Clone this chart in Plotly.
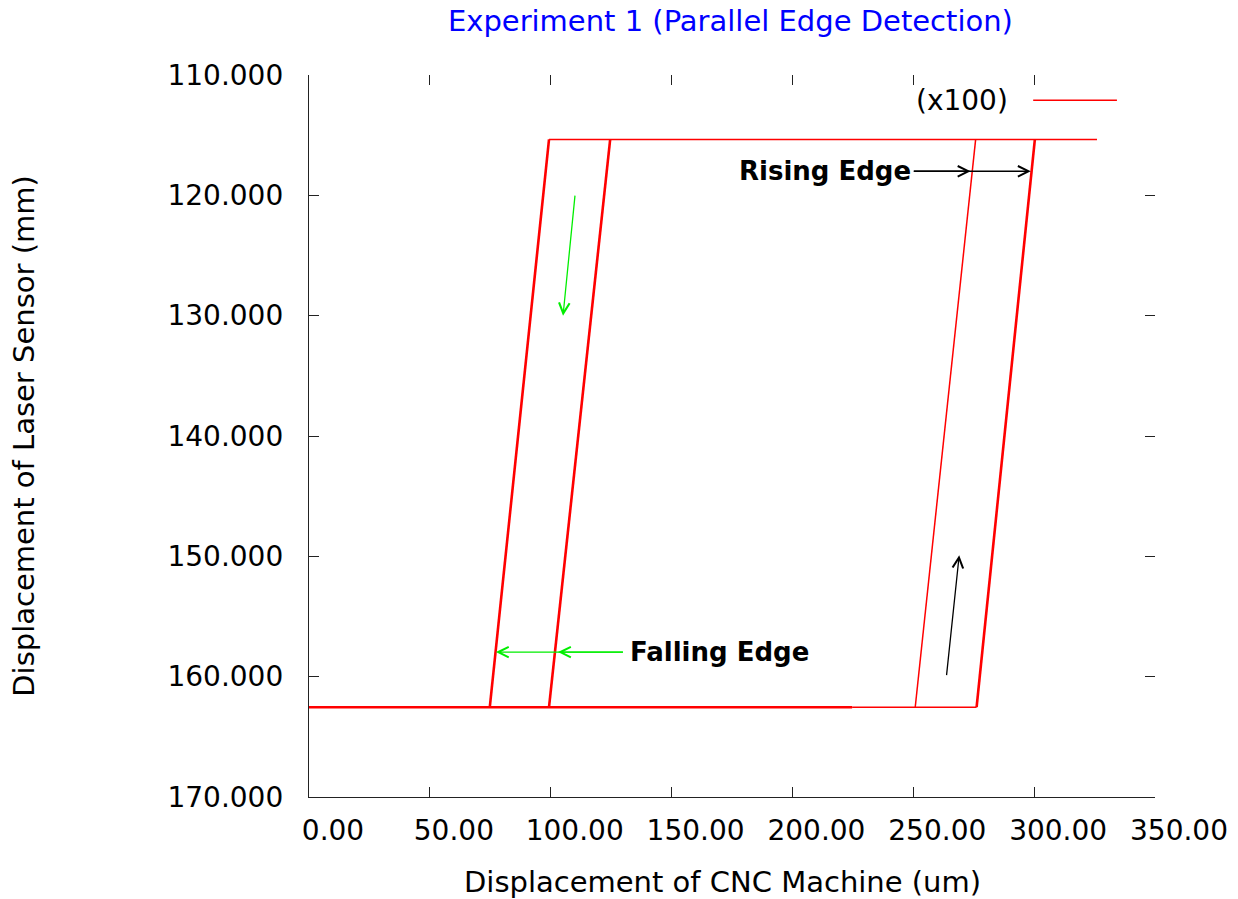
import plotly.graph_objects as go

# ---- data ----
title_text = "Experiment 1 (Parallel Edge Detection)"
x_title = "Displacement of CNC Machine (um)"
y_title = "Displacement of Laser Sensor (mm)"
series_name = "(x100)"

x_tick_vals = [0, 50, 100, 150, 200, 250, 300, 350]
y_tick_vals = [110, 120, 130, 140, 150, 160, 170]

# densely sampled parts of the trace (drawn heavier)
dense_x = [0.0, 224.7, None, 74.8, 99.3, None, 99.3, 124.6, None, 276.2, 300.3]
dense_y = [162.54, 162.54, None, 162.54, 115.35, None, 162.54, 115.35, None, 162.54, 115.35]
# sparse parts (jumps between samples, drawn lighter)
sparse_x = [224.7, 276.2, None, 99.3, 326.0, None, 250.8, 275.8]
sparse_y = [162.54, 162.54, None, 115.35, 115.35, None, 162.54, 115.35]

# annotation arrows: (tail_x, tail_y, head_x, head_y, colour)
arrow_tail_x = [249.6, 249.6, 130.5, 130.5, 110.1, 263.7]
arrow_tail_y = [118.0, 118.0, 157.96, 157.96, 119.9, 160.0]
arrow_head_x = [273.7, 298.6, 103.0, 77.3, 105.1, 269.0]
arrow_head_y = [118.0, 118.0, 157.96, 157.96, 130.0, 149.9]
arrow_colors = ["#000000", "#000000", "#00ee00", "#00ee00", "#00ee00", "#000000"]

label_texts = ["Rising Edge", "Falling Edge"]
label_x = [213.4, 169.7]
label_y = [118.0, 157.96]

FONT = "DejaVu Sans"
RED = "#ff0000"

fig = go.Figure()
fig.add_trace(go.Scatter(x=dense_x, y=dense_y, mode="lines", connectgaps=False,
                         line=dict(color=RED, width=2.6), showlegend=False,
                         name=series_name))
fig.add_trace(go.Scatter(x=sparse_x, y=sparse_y, mode="lines", connectgaps=False,
                         line=dict(color=RED, width=1.5), showlegend=False,
                         name=series_name))
# empty trace to carry the mirrored tick axes
fig.add_trace(go.Scatter(x=[], y=[], xaxis="x2", yaxis="y2", showlegend=False))

annotations = []
for tx, ty, hx, hy, c in zip(arrow_tail_x, arrow_tail_y, arrow_head_x, arrow_head_y, arrow_colors):
    annotations.append(dict(x=hx, y=hy, ax=tx, ay=ty, xref="x", yref="y",
                            axref="x", ayref="y", showarrow=True, text="",
                            arrowhead=5, arrowsize=1.6, arrowwidth=1.3,
                            arrowcolor=c))
for t, lx, ly in zip(label_texts, label_x, label_y):
    annotations.append(dict(x=lx, y=ly, xref="x", yref="y", text=t, showarrow=False,
                            xanchor="center", yanchor="middle",
                            font=dict(family=FONT, size=26, color="#000000", weight="bold")))
# legend key (gnuplot style: text then sample line)
annotations.append(dict(x=0.829, y=0.965, xref="paper", yref="paper", text=series_name,
                        showarrow=False, xanchor="right", yanchor="middle",
                        font=dict(family=FONT, size=28, color="#000000")))
# x axis title (slightly left of the plot centre, as in the reference)
annotations.append(dict(x=(722 - 309) / 846, y=-(882 - 797) / 722, xref="paper", yref="paper",
                        text=x_title, showarrow=False, xanchor="center", yanchor="middle",
                        font=dict(family=FONT, size=29, color="#000000")))

axis_common = dict(ticks="inside", ticklen=10, tickwidth=1.3, tickcolor="#222222",
                   showgrid=False, zeroline=False,
                   tickfont=dict(family=FONT, size=28, color="#000000"))

fig.update_layout(
    width=1238, height=899,
    margin=dict(l=309, r=83, t=75, b=102, autoexpand=False),
    paper_bgcolor="white", plot_bgcolor="white",
    title=dict(text=title_text, x=0.59, xanchor="center", y=1 - 21 / 899, yref="container",
               yanchor="middle", font=dict(family=FONT, size=29, color="#0000ff")),
    xaxis=dict(range=[0, 350], tickvals=x_tick_vals, tickformat=".2f",
               ticklabelshift=24, ticklabelstandoff=8,
               showline=True, linecolor="#222222", linewidth=1.3,
               automargin=False, **axis_common),
    yaxis=dict(range=[170, 110], tickvals=y_tick_vals, tickformat=".3f",
               ticklabelstandoff=19,
               showline=True, linecolor="#222222", linewidth=1.3,
               title=dict(text=y_title, standoff=124,
                          font=dict(family=FONT, size=29, color="#000000")),
               automargin=False, **axis_common),
    xaxis2=dict(range=[0, 350], tickvals=x_tick_vals, overlaying="x", side="top",
                anchor="y", showticklabels=False, showline=False, **axis_common),
    yaxis2=dict(range=[170, 110], tickvals=y_tick_vals, overlaying="y", side="right",
                anchor="x", showticklabels=False, showline=False, **axis_common),
    annotations=annotations,
    shapes=[dict(type="line", xref="paper", yref="paper", x0=0.856, x1=0.955,
                 y0=0.965, y1=0.965, line=dict(color=RED, width=1.5))],
    showlegend=False,
)

fig.write_html("out.html")
